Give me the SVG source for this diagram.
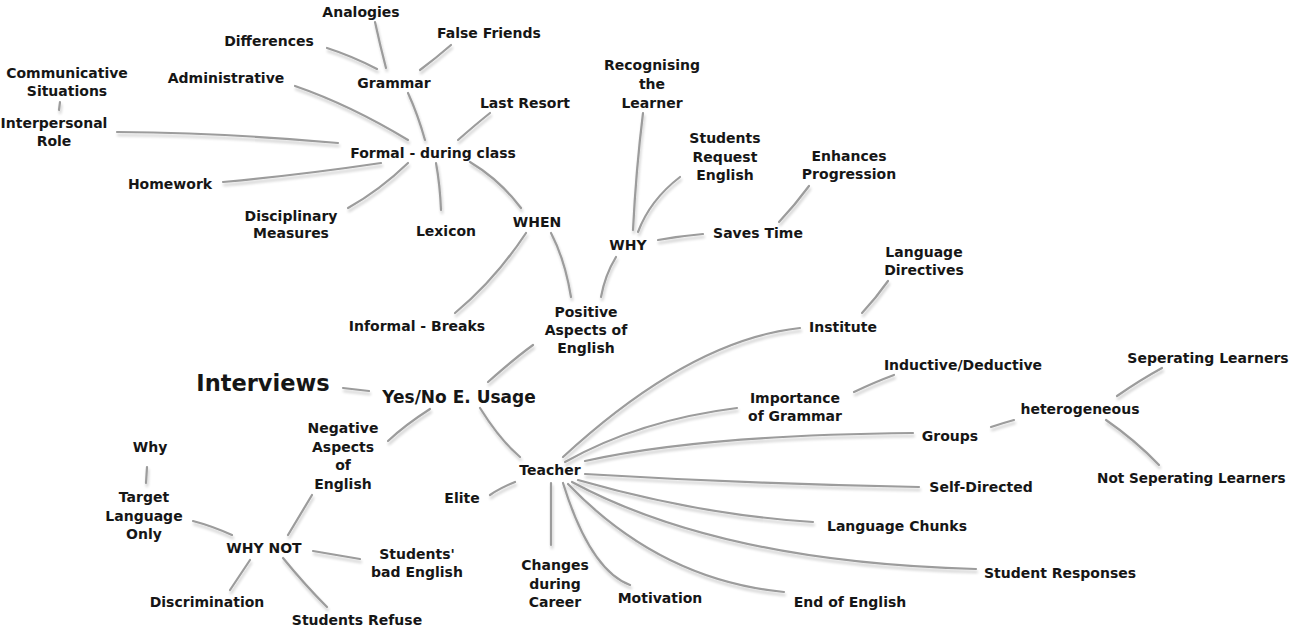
<svg xmlns="http://www.w3.org/2000/svg" width="1291" height="629" viewBox="0 0 1291 629">
<defs>
<filter id="sh" x="-20%" y="-20%" width="140%" height="140%">
<feGaussianBlur in="SourceAlpha" stdDeviation="1.6" result="b"/>
<feOffset in="b" dx="1" dy="2.5" result="o"/>
<feComponentTransfer in="o" result="s"><feFuncA type="linear" slope="0.22"/></feComponentTransfer>
<feMerge><feMergeNode in="s"/><feMergeNode in="SourceGraphic"/></feMerge>
</filter>
</defs>
<style>
text{font-family:"DejaVu Sans","Liberation Sans",sans-serif;font-weight:bold;font-size:14px;fill:#161616;text-anchor:middle}
.big{font-size:22.5px}
.mid{font-size:17px}
#connectors path{fill:none;stroke:#9c9c9c;stroke-width:2.2;stroke-linecap:round}
</style>
<rect width="1291" height="629" fill="#ffffff"/>
<g id="connectors" filter="url(#sh)">
<path d="M343,388 L369,391"/>
<path d="M488,382 Q515,358 533,345"/>
<path d="M430,409 Q405,425 388,441"/>
<path d="M480,408 Q500,440 520,457"/>
<path d="M571,297 Q565,260 551,233"/>
<path d="M601,297 Q605,275 616,257"/>
<path d="M526,233 Q495,280 455,313"/>
<path d="M521,208 Q500,180 470,162"/>
<path d="M633,230 Q636,170 643,113"/>
<path d="M638,232 Q650,200 680,177"/>
<path d="M658,240 Q680,236 703,234"/>
<path d="M779,222 Q795,205 809,186"/>
<path d="M425,140 Q418,115 408,93"/>
<path d="M386,68 Q380,45 375,22"/>
<path d="M327,48 Q352,56 377,69"/>
<path d="M420,70 Q436,58 451,45"/>
<path d="M408,140 Q350,105 295,86"/>
<path d="M458,140 Q475,125 490,113"/>
<path d="M338,143 Q230,133 117,132"/>
<path d="M381,163 Q300,175 223,182"/>
<path d="M408,163 Q380,190 348,208"/>
<path d="M436,163 Q440,185 441,210"/>
<path d="M60,102 L59,110"/>
<path d="M515,482 Q500,488 490,495"/>
<path d="M551,483 L551,545"/>
<path d="M563,457 Q690,340 800,328"/>
<path d="M565,462 Q640,420 737,408"/>
<path d="M585,461 Q700,435 913,433"/>
<path d="M585,474 Q750,484 919,487"/>
<path d="M578,480 Q700,515 813,522"/>
<path d="M572,482 C680,540 820,565 976,569"/>
<path d="M568,484 Q660,580 784,592"/>
<path d="M563,483 Q590,570 630,585"/>
<path d="M312,495 Q300,515 288,535"/>
<path d="M232,535 Q212,526 193,521"/>
<path d="M147,467 L146,483"/>
<path d="M250,560 Q240,575 230,590"/>
<path d="M283,558 Q305,585 327,607"/>
<path d="M313,551 Q337,555 360,559"/>
<path d="M862,313 Q876,298 888,281"/>
<path d="M854,392 Q875,382 894,375"/>
<path d="M991,427 Q1003,423 1014,420"/>
<path d="M1117,396 Q1140,380 1162,368"/>
<path d="M1106,420 Q1135,440 1159,465"/>
</g>
<g id="n-interviews"><text class="big" x="263" y="391">Interviews</text></g>
<g id="n-yesno"><text class="mid" x="459" y="403">Yes/No E. Usage</text></g>
<g id="n-positive"><text x="586" y="317">Positive<tspan x="586" dy="18">Aspects of</tspan><tspan x="586" dy="18">English</tspan></text></g>
<g id="n-negative"><text x="343" y="433">Negative<tspan x="343" dy="18.5">Aspects</tspan><tspan x="343" dy="18.5">of</tspan><tspan x="343" dy="18.5">English</tspan></text></g>
<g id="n-teacher"><text x="550" y="475">Teacher</text></g>
<g id="n-when"><text x="537" y="227">WHEN</text></g>
<g id="n-why"><text x="628" y="250">WHY</text></g>
<g id="n-informal"><text x="417" y="331">Informal - Breaks</text></g>
<g id="n-formal"><text x="433" y="158">Formal - during class</text></g>
<g id="n-grammar"><text x="394" y="88">Grammar</text></g>
<g id="n-analogies"><text x="361" y="17">Analogies</text></g>
<g id="n-differences"><text x="269" y="46">Differences</text></g>
<g id="n-falsefriends"><text x="489" y="38">False Friends</text></g>
<g id="n-administrative"><text x="226" y="83">Administrative</text></g>
<g id="n-communicative"><text x="67" y="78">Communicative<tspan x="67" dy="18">Situations</tspan></text></g>
<g id="n-interpersonal"><text x="54" y="128">Interpersonal<tspan x="54" dy="18">Role</tspan></text></g>
<g id="n-lastresort"><text x="525" y="108">Last Resort</text></g>
<g id="n-homework"><text x="170" y="189">Homework</text></g>
<g id="n-disciplinary"><text x="291" y="221">Disciplinary<tspan x="291" dy="17">Measures</tspan></text></g>
<g id="n-lexicon"><text x="446" y="236">Lexicon</text></g>
<g id="n-recognising"><text x="652" y="70">Recognising<tspan x="652" dy="19">the</tspan><tspan x="652" dy="19">Learner</tspan></text></g>
<g id="n-studentsrequest"><text x="725" y="143">Students<tspan x="725" dy="18.5">Request</tspan><tspan x="725" dy="18.5">English</tspan></text></g>
<g id="n-savestime"><text x="758" y="238">Saves Time</text></g>
<g id="n-enhances"><text x="849" y="161">Enhances<tspan x="849" dy="18">Progression</tspan></text></g>
<g id="n-institute"><text x="843" y="332">Institute</text></g>
<g id="n-directives"><text x="924" y="257">Language<tspan x="924" dy="17.5">Directives</tspan></text></g>
<g id="n-importance"><text x="795" y="403">Importance<tspan x="795" dy="18">of Grammar</tspan></text></g>
<g id="n-inductive"><text x="963" y="370">Inductive/Deductive</text></g>
<g id="n-groups"><text x="950" y="441">Groups</text></g>
<g id="n-hetero"><text x="1080" y="414">heterogeneous</text></g>
<g id="n-seperating"><text x="1208" y="363">Seperating Learners</text></g>
<g id="n-notseperating"><text x="1097" y="483" style="text-anchor:start;font-size:13.6px">Not Seperating Learners</text></g>
<g id="n-selfdirected"><text x="981" y="492">Self-Directed</text></g>
<g id="n-chunks"><text x="897" y="531">Language Chunks</text></g>
<g id="n-responses"><text x="1060" y="578">Student Responses</text></g>
<g id="n-endofenglish"><text x="850" y="607">End of English</text></g>
<g id="n-motivation"><text x="660" y="603">Motivation</text></g>
<g id="n-changes"><text x="555" y="570">Changes<tspan x="555" dy="18.5">during</tspan><tspan x="555" dy="18.5">Career</tspan></text></g>
<g id="n-elite"><text x="462" y="503">Elite</text></g>
<g id="n-whynot"><text x="264" y="553">WHY NOT</text></g>
<g id="n-target"><text x="144" y="502">Target<tspan x="144" dy="18.5">Language</tspan><tspan x="144" dy="18.5">Only</tspan></text></g>
<g id="n-why2"><text x="150" y="452">Why</text></g>
<g id="n-discrimination"><text x="207" y="607">Discrimination</text></g>
<g id="n-refuse"><text x="357" y="625">Students Refuse</text></g>
<g id="n-badenglish"><text x="417" y="559">Students'<tspan x="417" dy="18">bad English</tspan></text></g>
</svg>
